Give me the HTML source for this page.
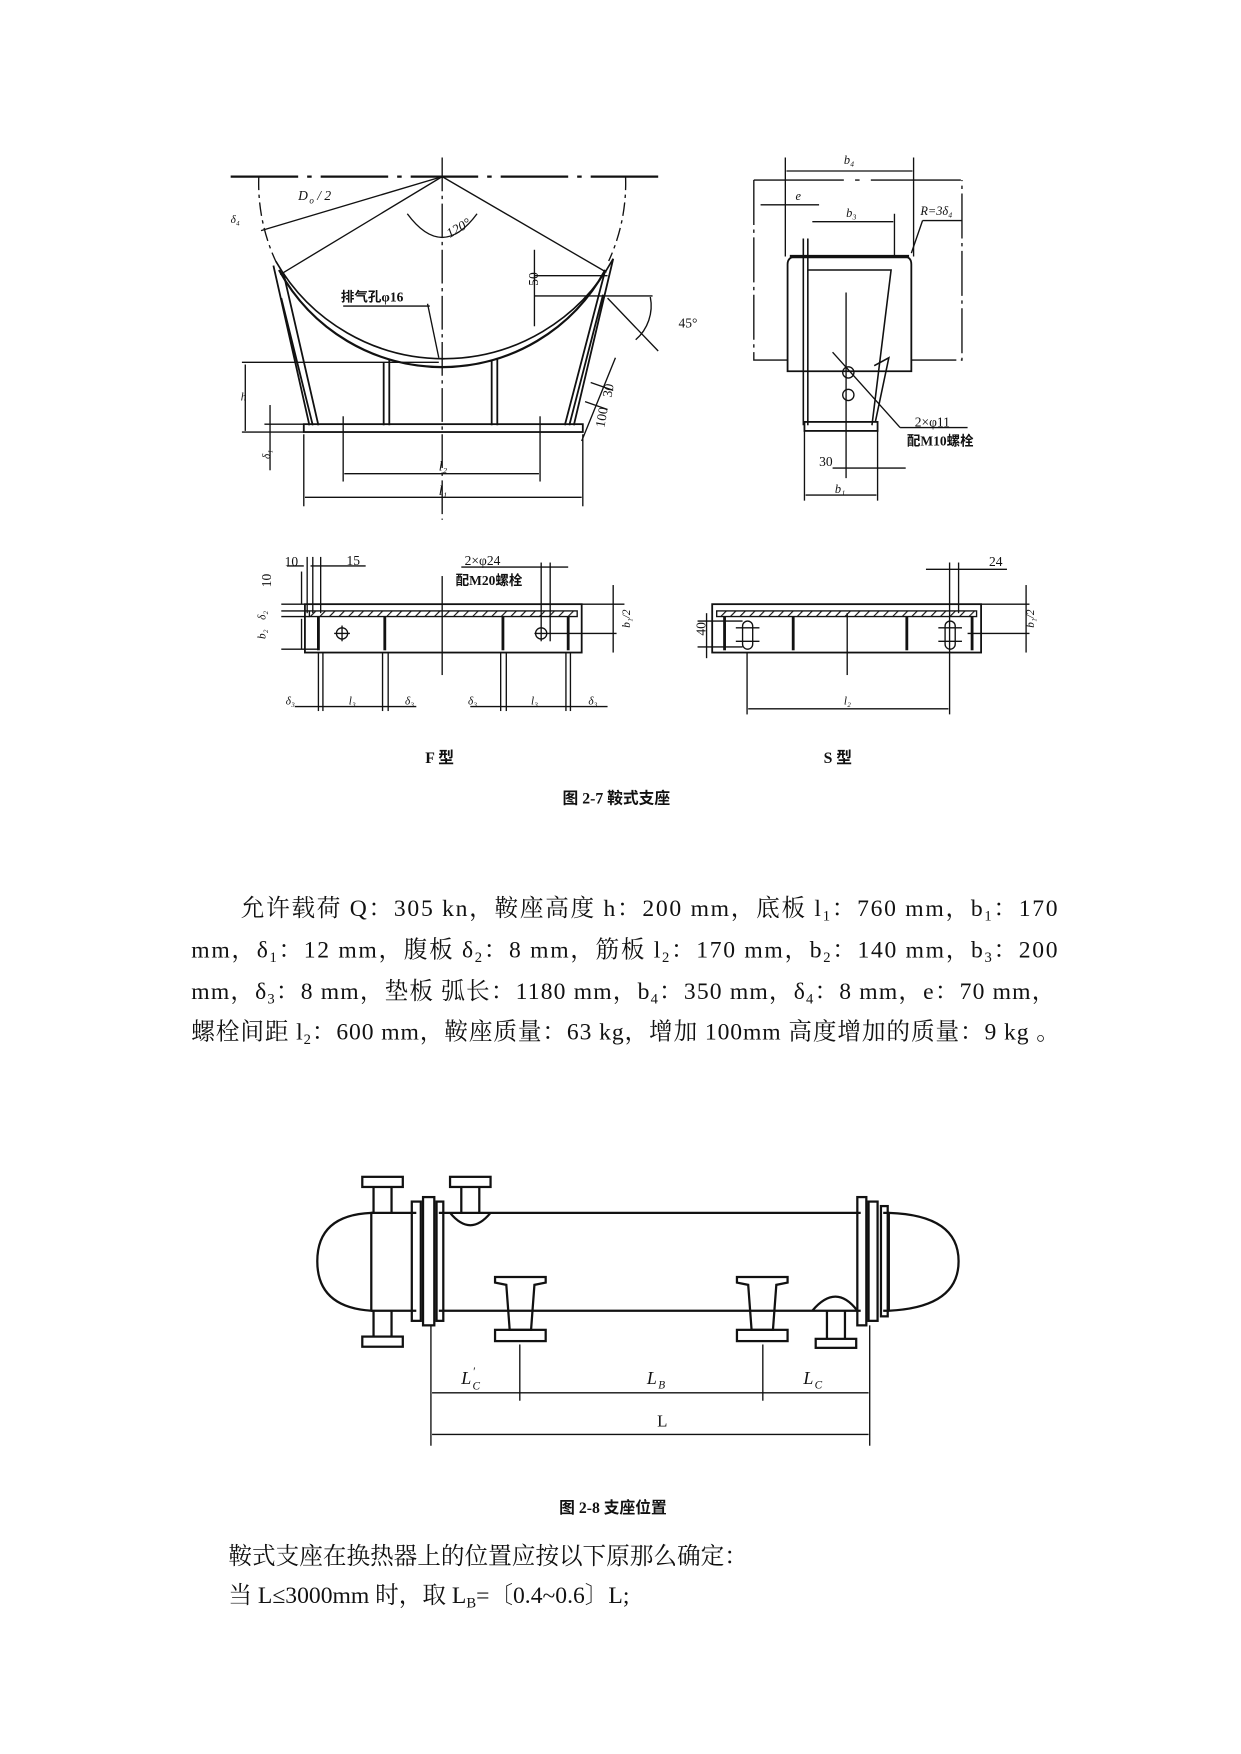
<!DOCTYPE html>
<html><head><meta charset="utf-8"><style>
html,body{margin:0;padding:0;background:#fff}
svg{display:block}
text{font-family:"Liberation Serif","Noto Serif CJK SC",serif;fill:#111}
.s{font-family:"Liberation Serif","Noto Sans CJK SC",serif;font-weight:bold}
.p{font-family:"Liberation Serif","Noto Serif CJK SC",serif;font-size:21px}
</style></head><body>
<svg width="1241" height="1754" viewBox="0 0 1103 1559" xmlns="http://www.w3.org/2000/svg">
<g stroke="#111" fill="none" stroke-width="1.2">
<line x1="205" y1="157" x2="585" y2="157" stroke-width="2" stroke-dasharray="60,8,4,8"/>
<line x1="393" y1="140" x2="393" y2="462" stroke-dasharray="30,4,3,4"/>
<path d="M230 157 A165 165 0 0 0 245 232" stroke-dasharray="12,4,3,4"/>
<path d="M556 157 A165 165 0 0 1 541 232" stroke-dasharray="12,4,3,4"/>
<path d="M248 240 A165 165 0 0 0 538 240" stroke-width="2"/>
<path d="M245 232 A172 172 0 0 0 545 230" stroke-width="1.5"/>
<line x1="393" y1="157" x2="249" y2="244"/>
<line x1="393" y1="157" x2="539" y2="242"/>
<line x1="393" y1="157" x2="232" y2="205"/>
<path d="M362 190 Q393 232 424 190"/>
<path d="M243 236 L275 378 M252 243 L283 378 M250 265 L278 378" stroke-width="1.6"/>
<path d="M545 230 L510 378 M538 240 L502 378 M536 262 L506 378" stroke-width="1.6"/>
<line x1="341" y1="322" x2="341" y2="378" stroke-width="1.6"/>
<line x1="346" y1="320" x2="346" y2="378" stroke-width="1.6"/>
<line x1="437" y1="320" x2="437" y2="378" stroke-width="1.6"/>
<line x1="442" y1="319" x2="442" y2="378" stroke-width="1.6"/>
<rect x="270" y="377" width="248" height="7" stroke-width="1.6"/>
<line x1="215" y1="322" x2="390" y2="322"/>
<line x1="215" y1="384" x2="270" y2="384"/>
<line x1="235" y1="377" x2="270" y2="377"/>
<line x1="218" y1="324" x2="218" y2="383"/>
<line x1="240" y1="360" x2="240" y2="418"/>
<line x1="270" y1="386" x2="270" y2="450"/>
<line x1="518" y1="386" x2="518" y2="450"/>
<line x1="305" y1="370" x2="305" y2="428"/>
<line x1="480" y1="370" x2="480" y2="428"/>
<line x1="306" y1="421" x2="479" y2="421"/>
<line x1="271" y1="442" x2="517" y2="442"/>
<line x1="475" y1="222" x2="475" y2="290"/>
<line x1="475" y1="245" x2="540" y2="245"/>
<line x1="475" y1="263" x2="580" y2="263"/>
<line x1="540" y1="265" x2="585" y2="312"/>
<path d="M578 264 A40 40 0 0 1 565 302"/>
<line x1="380" y1="270" x2="390" y2="318"/>
<line x1="305" y1="272" x2="382" y2="272"/>
<line x1="525" y1="340" x2="545" y2="347"/>
<line x1="520" y1="357" x2="540" y2="364"/>
<line x1="547" y1="318" x2="517" y2="392"/>
</g>
<g font-size="12" font-style="italic">
<text x="265" y="178">D</text><text x="275" y="181" font-size="8">o</text><text x="282" y="178">/ 2</text>
<text x="205" y="198" font-size="10">δ₄</text>
<text x="397" y="208" transform="rotate(-30 405 205)">120°</text>
<text x="214" y="356" font-size="10">h</text>
<text x="236" y="412" font-size="10" transform="rotate(-90 236 408)">δ₁</text>
<text x="390" y="418">l₂</text>
<text x="390" y="440">l₁</text>
</g>
<g font-size="12">
<text x="303" y="268" class="s">排气孔φ16</text>
<text x="474" y="258" transform="rotate(-90 474 254)">50</text>
<text x="603" y="291">45°</text>
<text x="537" y="354" transform="rotate(-80 540 350)">30</text>
<text x="530" y="378" transform="rotate(-80 535 375)">100</text>
</g>
<g stroke="#111" fill="none" stroke-width="1.2">
<path d="M670 160 L670 320 L700 320 M810 320 L855 320 L855 160" stroke-dasharray="40,4,3,4"/>
<line x1="670" y1="160" x2="855" y2="160" stroke-dasharray="80,10,4,10"/>
<path d="M700 330 L700 235 Q700 228 708 228 L803 228 Q810 228 810 235 L810 330 Z" stroke-width="1.6"/>
<line x1="702" y1="228" x2="808" y2="228" stroke-width="3"/>
<path d="M718 240 L792 240 L775 378" stroke-width="1.4"/>
<path d="M777 325 L790 318 L778 375" stroke-width="1.4"/>
<line x1="714" y1="212" x2="714" y2="378" stroke-width="1.4"/>
<line x1="718" y1="212" x2="718" y2="378" stroke-width="1.4"/>
<rect x="715" y="375" width="65" height="8" stroke-width="1.6"/>
<line x1="698" y1="140" x2="698" y2="228"/>
<line x1="812" y1="140" x2="812" y2="228"/>
<line x1="699" y1="152" x2="811" y2="152"/>
<line x1="676" y1="182" x2="728" y2="182"/>
<line x1="795" y1="190" x2="795" y2="228"/>
<line x1="722" y1="197" x2="794" y2="197"/>
<line x1="810" y1="225" x2="820" y2="196"/>
<line x1="820" y1="196" x2="855" y2="196"/>
<circle cx="754" cy="331" r="5"/><circle cx="754" cy="351" r="5"/>
<line x1="752" y1="260" x2="752" y2="425"/>
<line x1="740" y1="313" x2="800" y2="380"/>
<line x1="800" y1="380" x2="860" y2="380"/>
<line x1="715" y1="383" x2="715" y2="445"/>
<line x1="780" y1="383" x2="780" y2="445"/>
<line x1="716" y1="440" x2="779" y2="440"/>
<line x1="740" y1="416" x2="805" y2="416"/>
</g>
<g font-size="11" font-style="italic">
<text x="750" y="146">b₄</text>
<text x="707" y="178">e</text>
<text x="752" y="193">b₃</text>
<text x="818" y="191">R=3δ₄</text>
<text x="742" y="438">b₁</text>
</g>
<g font-size="12">
<text x="813" y="379">2×φ11</text>
<text x="806" y="396" class="s">配M10螺栓</text>
<text x="728" y="414">30</text>
</g>
<defs><pattern id="h" width="6" height="6" patternUnits="userSpaceOnUse" patternTransform="rotate(45)"><line x1="0" y1="0" x2="0" y2="6" stroke="#111" stroke-width="2"/></pattern></defs>
<g stroke="#111" fill="none" stroke-width="1.2">
<rect x="271" y="537" width="246" height="43" stroke-width="1.6"/>
<rect x="275" y="543" width="238" height="5" fill="url(#h)"/>
<g stroke-width="2.5"><line x1="283" y1="548" x2="283" y2="578"/><line x1="342" y1="548" x2="342" y2="578"/><line x1="447" y1="548" x2="447" y2="578"/><line x1="505" y1="548" x2="505" y2="578"/></g>
<circle cx="304" cy="563" r="5"/><line x1="297" y1="563" x2="311" y2="563"/><line x1="304" y1="556" x2="304" y2="570"/>
<circle cx="481" cy="563" r="5"/><line x1="481" y1="500" x2="481" y2="570"/><line x1="489" y1="500" x2="489" y2="570"/>
<line x1="475" y1="563" x2="548" y2="563"/>
<line x1="393" y1="512" x2="393" y2="600"/>
<line x1="255" y1="503" x2="270" y2="503"/><line x1="276" y1="503" x2="325" y2="503"/>
<line x1="273" y1="495" x2="273" y2="545"/><line x1="278" y1="495" x2="278" y2="545"/><line x1="285" y1="495" x2="285" y2="545"/>
<line x1="410" y1="504" x2="505" y2="504"/>
<line x1="250" y1="537" x2="271" y2="537"/><line x1="250" y1="543" x2="275" y2="543"/><line x1="250" y1="548" x2="275" y2="548"/>
<line x1="250" y1="577" x2="283" y2="577"/>
<line x1="268" y1="508" x2="268" y2="537"/><line x1="268" y1="550" x2="268" y2="577"/>
<line x1="545" y1="520" x2="545" y2="580"/><line x1="517" y1="537" x2="555" y2="537"/>
<g><line x1="283" y1="580" x2="283" y2="632"/><line x1="287" y1="580" x2="287" y2="632"/><line x1="340" y1="580" x2="340" y2="632"/><line x1="345" y1="580" x2="345" y2="632"/><line x1="445" y1="580" x2="445" y2="632"/><line x1="450" y1="580" x2="450" y2="632"/><line x1="503" y1="580" x2="503" y2="632"/><line x1="507" y1="580" x2="507" y2="632"/>
<line x1="262" y1="628" x2="370" y2="628"/><line x1="418" y1="628" x2="540" y2="628"/></g>
<rect x="633" y="537" width="239" height="43" stroke-width="1.6"/>
<rect x="637" y="543" width="231" height="5" fill="url(#h)"/>
<g stroke-width="2.5"><line x1="644" y1="548" x2="644" y2="578"/><line x1="705" y1="548" x2="705" y2="578"/><line x1="806" y1="548" x2="806" y2="578"/><line x1="864" y1="548" x2="864" y2="578"/></g>
<rect x="660" y="552" width="9" height="25" rx="4.5"/><rect x="840" y="552" width="9" height="25" rx="4.5"/>
<line x1="654" y1="558" x2="675" y2="558"/><line x1="654" y1="570" x2="675" y2="570"/>
<line x1="834" y1="558" x2="855" y2="558"/><line x1="834" y1="570" x2="855" y2="570"/>
<line x1="753" y1="545" x2="753" y2="600"/>
<line x1="620" y1="552" x2="660" y2="552"/><line x1="620" y1="575" x2="660" y2="575"/><line x1="628" y1="545" x2="628" y2="585"/>
<line x1="664" y1="580" x2="664" y2="635"/><line x1="844" y1="500" x2="844" y2="635"/><line x1="852" y1="500" x2="852" y2="545"/>
<line x1="665" y1="630" x2="843" y2="630"/>
<line x1="823" y1="506" x2="895" y2="506"/>
<line x1="872" y1="537" x2="915" y2="537"/><line x1="860" y1="563" x2="915" y2="563"/><line x1="912" y1="520" x2="912" y2="580"/>
</g>
<g font-size="12">
<text x="253" y="503">10</text><text x="308" y="502">15</text>
<text x="236" y="527" transform="rotate(-90 236 522)">10</text>
<text x="413" y="502">2×φ24</text><text x="405" y="520" class="s">配M20螺栓</text>
<text x="879" y="503">24</text>
<text x="622" y="570" transform="rotate(-90 622 565)">40</text>
</g>
<g font-size="10" font-style="italic">
<text x="228" y="551" transform="rotate(-90 232 547)">δ₂</text>
<text x="228" y="568" transform="rotate(-90 232 564)">b₂</text>
<text x="552" y="566" transform="rotate(-90 552 558)">b₁/2</text>
<text x="911" y="566" transform="rotate(-90 911 558)">b₁/2</text>
<text x="254" y="626">δ₃</text><text x="310" y="626">l₃</text><text x="360" y="626">δ₃</text>
<text x="416" y="626">δ₃</text><text x="472" y="626">l₃</text><text x="523" y="626">δ₃</text>
<text x="750" y="626">l₂</text>
</g>
<text x="378" y="678" font-size="14" class="s">F 型</text>
<text x="732" y="678" font-size="14" class="s">S 型</text>
<text x="500" y="714" font-size="14" class="s">图 2-7  鞍式支座</text>
<text class="p" x="214" y="814" textLength="726" lengthAdjust="spacing">允许载荷 Q：305 kn，鞍座高度 h：200 mm，底板 l<tspan font-size="13" dy="4">1</tspan><tspan dy="-4">：760 mm，b</tspan><tspan font-size="13" dy="4">1</tspan><tspan dy="-4">：170</tspan></text>
<text class="p" x="170" y="851" textLength="770" lengthAdjust="spacing">mm，δ<tspan font-size="13" dy="4">1</tspan><tspan dy="-4">：12 mm，腹板 δ</tspan><tspan font-size="13" dy="4">2</tspan><tspan dy="-4">：8 mm，筋板 l</tspan><tspan font-size="13" dy="4">2</tspan><tspan dy="-4">：170 mm，b</tspan><tspan font-size="13" dy="4">2</tspan><tspan dy="-4">：140 mm，b</tspan><tspan font-size="13" dy="4">3</tspan><tspan dy="-4">：200</tspan></text>
<text class="p" x="170" y="888" textLength="768" lengthAdjust="spacing">mm，δ<tspan font-size="13" dy="4">3</tspan><tspan dy="-4">：8 mm，垫板  弧长：1180 mm，b</tspan><tspan font-size="13" dy="4">4</tspan><tspan dy="-4">：350 mm，δ</tspan><tspan font-size="13" dy="4">4</tspan><tspan dy="-4">：8 mm，e：70 mm，</tspan></text>
<text class="p" x="170" y="924" textLength="772" lengthAdjust="spacing">螺栓间距 l<tspan font-size="13" dy="4">2</tspan><tspan dy="-4">：600 mm，鞍座质量：63 kg，增加 100mm 高度增加的质量：9 kg  。</tspan></text>
<g stroke="#111" fill="none" stroke-width="2">
<path d="M330 1078 L370 1078 M390 1078 L765 1078 M785 1078 L790 1078"/>
<path d="M330 1165 L370 1165 M390 1165 L765 1165 M785 1165 L790 1165"/>
<path d="M330 1078 Q282 1080 282 1121 Q282 1162 330 1165 Z"/>
<path d="M790 1078 Q852 1080 852 1121 Q852 1162 790 1165 Z"/>
<rect x="366" y="1068" width="8" height="106"/><rect x="376" y="1064" width="10" height="114"/><rect x="388" y="1068" width="6" height="106"/>
<rect x="762" y="1064" width="8" height="114"/><rect x="772" y="1068" width="8" height="106"/><rect x="783" y="1072" width="6" height="98"/>
<path d="M332 1078 L332 1055 M348 1078 L348 1055"/><rect x="322" y="1046" width="36" height="9"/>
<path d="M332 1165 L332 1188 M348 1165 L348 1188"/><rect x="322" y="1188" width="36" height="9"/>
<path d="M410 1078 L410 1055 M426 1078 L426 1055"/><rect x="400" y="1046" width="36" height="9"/>
<path d="M400 1078 Q418 1100 436 1078"/>
<path d="M735 1165 L735 1190 M751 1165 L751 1190"/><rect x="725" y="1190" width="36" height="8"/>
<path d="M722 1165 Q743 1140 762 1165"/>
<path d="M440 1140 L440 1135 L485 1135 L485 1140 L475 1142 L472 1182 L453 1182 L450 1142 Z"/>
<rect x="440" y="1182" width="45" height="10"/>
<path d="M655 1140 L655 1135 L700 1135 L700 1140 L690 1142 L687 1182 L668 1182 L665 1142 Z"/>
<rect x="655" y="1182" width="45" height="10"/>
</g>
<g stroke="#111" fill="none" stroke-width="1.2">
<line x1="383" y1="1178" x2="383" y2="1285"/><line x1="773" y1="1178" x2="773" y2="1285"/>
<line x1="462" y1="1195" x2="462" y2="1245"/><line x1="678" y1="1195" x2="678" y2="1245"/>
<line x1="384" y1="1238" x2="772" y2="1238"/>
<line x1="384" y1="1275" x2="772" y2="1275"/>
</g>
<g font-size="16" font-style="italic">
<text x="410" y="1230">L</text><text x="420" y="1235" font-size="10">C</text><text x="420" y="1222" font-size="10">′</text>
<text x="575" y="1230">L</text><text x="585" y="1234" font-size="10">B</text>
<text x="714" y="1230">L</text><text x="724" y="1234" font-size="10">C</text>
</g>
<text x="584" y="1268" font-size="15">L</text>
<text x="497" y="1345" font-size="14" class="s">图 2-8  支座位置</text>
<text class="p" x="203" y="1390">鞍式支座在换热器上的位置应按以下原那么确定：</text>
<text class="p" x="203" y="1425">当 L≤3000mm 时，取 L<tspan font-size="13" dy="4">B</tspan><tspan dy="-4">=〔0.4~0.6〕L;</tspan></text>
</svg>
</body></html>
